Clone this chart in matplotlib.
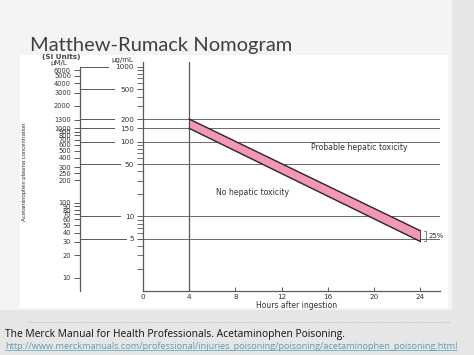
import numpy as np
import matplotlib.pyplot as plt
from matplotlib.patches import Rectangle
from matplotlib.lines import Line2D
from matplotlib.ticker import LogLocator, NullLocator, NullFormatter

# nomogram values (ug/mL)
hour_ticks = [0, 4, 8, 12, 16, 20, 24]
band_hours = [4, 24]
band_upper = [200, 6.4]    # treatment line
band_lower = [150, 4.6]    # 25% lower line
ugml_labels = [1000, 500, 200, 150, 100, 50, 10, 5]
ref_lines = [200, 150, 100, 50, 10, 5]
si_labels = [6000, 5000, 4000, 3000, 2000, 1300, 1000, 900, 800, 700, 600, 500,
             400, 300, 250, 200, 100, 90, 80, 70, 60, 50, 40, 30, 20, 10]
UM_PER_UG = 6.62  # acetaminophen, MW 151

W, H = 474, 355
fig = plt.figure(figsize=(W / 100, H / 100), dpi=100, facecolor='#e6e6e6')

def px(x0, y0, x1, y1):
    return [x0 / W, 1 - y1 / H, (x1 - x0) / W, (y1 - y0) / H]

# slide background
fig.patches.append(Rectangle((0, 1 - 310 / H), 452 / W, 310 / H, transform=fig.transFigure,
                             facecolor='#f4f4f4', edgecolor='none', zorder=-3))
fig.patches.append(Rectangle((20 / W, 1 - 308 / H), 428 / W, 253 / H, transform=fig.transFigure,
                             facecolor='white', edgecolor='none', zorder=-2))

fig.text(30 / W, 1 - 45 / H, 'Matthew-Rumack Nomogram', fontsize=14.5, color='#404040',
         family='Lato', va='center', ha='left')

ax = fig.add_axes(px(143, 62, 440, 291))
ax.set_facecolor('none')
ax.set_yscale('log')
ax.set_xlim(0, 25.7)
ax.set_ylim(1, 1160)

grey = '#5a5a5a'
for s in ['top', 'right']:
    ax.spines[s].set_visible(False)
for s in ['left', 'bottom']:
    ax.spines[s].set_color(grey)
    ax.spines[s].set_linewidth(0.9)

tfont = dict(family='DejaVu Sans', fontsize=5.2, color='#333333')

ax.set_xticks(hour_ticks)
ax.set_xticklabels([str(h) for h in hour_ticks], **tfont)
ax.tick_params(axis='x', direction='in', length=3, width=0.7, color=grey, pad=2.5)

ax.set_yticks(ugml_labels)
ax.set_yticklabels([str(v) for v in ugml_labels], **tfont)
ax.yaxis.set_minor_locator(LogLocator(base=10, subs=np.arange(2, 10)))
ax.yaxis.set_minor_formatter(NullFormatter())
ax.tick_params(axis='y', which='major', direction='out', length=4.5, width=0.7, color=grey, pad=2)
ax.tick_params(axis='y', which='minor', direction='out', length=4, width=0.6, color=grey)

ax.set_xlabel('Hours after ingestion', family='DejaVu Sans', fontsize=5.5, color='#333333')
ax.xaxis.set_label_coords(13.3 / 25.7, -0.043)

# reference lines
for v in ref_lines:
    ax.axhline(v, color='#6a6a6a', lw=0.7, zorder=1)
ax.axvline(4, color=grey, lw=0.9, zorder=1)

# band
ax.fill_between(band_hours, band_lower, band_upper, facecolor='#f297b6', edgecolor='none', zorder=2)
ax.plot(band_hours, band_upper, color='#2e2226', lw=1.0, zorder=3)
ax.plot(band_hours, band_lower, color='#2e2226', lw=1.0, zorder=3)
ax.plot([4, 4], [band_lower[0], band_upper[0]], color='#3b2a2e', lw=0.6, zorder=3)
ax.plot([24, 24], [band_lower[1], band_upper[1]], color='#3b2a2e', lw=0.6, zorder=3)

ax.text(14.5, 82, 'Probable hepatic toxicity', fontsize=5.6, family='DejaVu Sans', color='#333333', va='center')
ax.text(6.3, 20.5, 'No hepatic toxicity', fontsize=5.6, family='DejaVu Sans', color='#333333', va='center')
ax.text(24.7, band_lower[1] * 1.2, '25%', fontsize=5, family='DejaVu Sans', color='#333333', va='center')
ax.plot([24.35, 24.45, 24.45, 24.35], [band_upper[1], band_upper[1], band_lower[1], band_lower[1]],
        color='#555555', lw=0.5, clip_on=False)

# SI units scale on the left
si_loc = (80 - 143) / 297
sec = ax.secondary_yaxis(si_loc, functions=(lambda v: v * UM_PER_UG, lambda v: v / UM_PER_UG))
sec.set_yticks(si_labels)
sec.set_yticklabels([str(v) for v in si_labels], family='DejaVu Sans', fontsize=4.8, color='#333333')
sec.yaxis.set_minor_locator(NullLocator())
sec.tick_params(axis='y', direction='out', length=4.5, width=0.7, color=grey, pad=2)
sec.spines['left'].set_color(grey)
sec.spines['left'].set_linewidth(0.9)
sec.spines['left'].set_bounds(1 * UM_PER_UG, 1000 * UM_PER_UG)

# connectors from SI scale to ug/mL labels
ytr = ax.get_yaxis_transform()
for v in ugml_labels:
    end_px = 135 - 6 * len(str(v)) - 3
    ax.plot([si_loc, (end_px - 143) / 297], [v, v], color=grey, lw=0.7, transform=ytr, clip_on=False)

fig.text(61 / W, 1 - 57 / H, '(SI Units)', fontsize=5.2, family='DejaVu Sans', weight='bold',
         color='#444444', ha='center', va='center')
fig.text(59 / W, 1 - 62.5 / H, 'µM/L', fontsize=5, family='DejaVu Sans', color='#333333', ha='center', va='center')
fig.text(122 / W, 1 - 60 / H, 'µg/mL', fontsize=5, family='DejaVu Sans', color='#333333', ha='center', va='center')
fig.text(25 / W, 1 - 172 / H, 'Acetaminophen plasma concentration', fontsize=4.2, family='Liberation Sans',
         color='#333333', rotation=90, ha='center', va='center')

# citation
fig.add_artist(Line2D([28 / W, 450 / W], [1 - 322 / H, 1 - 322 / H], color='#aaaaaa', lw=0.6, ls=':'))
fig.text(5 / W, 1 - 334 / H, 'The Merck Manual for Health Professionals. Acetaminophen Poisoning.',
         fontsize=7.4, family='Open Sans', color='#111111', va='center')
link = fig.text(5 / W, 1 - 346.5 / H,
                'http://www.merckmanuals.com/professional/injuries_poisoning/poisoning/acetaminophen_poisoning.html',
                fontsize=6.6, family='Open Sans', color='#5a9fb3', va='center')
fig.canvas.draw()
bb = link.get_window_extent()
fig.add_artist(Line2D([bb.x0 / W, bb.x1 / W], [(bb.y0 + 1) / H, (bb.y0 + 1) / H], color='#5a9fb3', lw=0.5))

fig.savefig('out.png', dpi=100, facecolor=fig.get_facecolor())
